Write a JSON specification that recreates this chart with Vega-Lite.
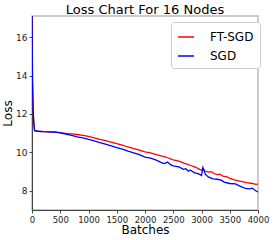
{
  "$schema": "https://vega.github.io/schema/vega-lite/v6.json",
  "autosize": {"type": "none"},
  "width": 226,
  "height": 194,
  "padding": {"left": 32, "top": 16, "right": 16, "bottom": 30},
  "background": "white",
  "title": {"text": "Loss Chart For 16 Nodes", "font": "DejaVu Sans", "fontSize": 13, "fontWeight": "normal", "color": "#000", "offset": 2, "dy": 3},
  "config": {
    "view": {"stroke": "#bbbbbb", "strokeWidth": 1.5},
    "axis": {"labelFont": "DejaVu Sans", "titleFont": "DejaVu Sans", "labelFontSize": 9, "titleFontSize": 12, "titleFontWeight": "normal", "labelColor": "#222", "titleColor": "#000", "grid": false, "domainColor": "#444", "tickColor": "#444", "tickSize": 3, "labelFlush": false}
  },
  "data": {"values": [
    {"batch": 0, "loss": 17.6, "series": "FT-SGD"},
    {"batch": 10, "loss": 13.6, "series": "FT-SGD"},
    {"batch": 20, "loss": 12.3, "series": "FT-SGD"},
    {"batch": 30, "loss": 11.6, "series": "FT-SGD"},
    {"batch": 45, "loss": 11.15, "series": "FT-SGD"},
    {"batch": 100, "loss": 11.1, "series": "FT-SGD"},
    {"batch": 200, "loss": 11.08, "series": "FT-SGD"},
    {"batch": 300, "loss": 11.07, "series": "FT-SGD"},
    {"batch": 400, "loss": 11.06, "series": "FT-SGD"},
    {"batch": 500, "loss": 11.03, "series": "FT-SGD"},
    {"batch": 600, "loss": 10.99, "series": "FT-SGD"},
    {"batch": 700, "loss": 10.96, "series": "FT-SGD"},
    {"batch": 800, "loss": 10.93, "series": "FT-SGD"},
    {"batch": 900, "loss": 10.89, "series": "FT-SGD"},
    {"batch": 1000, "loss": 10.83, "series": "FT-SGD"},
    {"batch": 1100, "loss": 10.76, "series": "FT-SGD"},
    {"batch": 1200, "loss": 10.68, "series": "FT-SGD"},
    {"batch": 1300, "loss": 10.61, "series": "FT-SGD"},
    {"batch": 1400, "loss": 10.53, "series": "FT-SGD"},
    {"batch": 1500, "loss": 10.45, "series": "FT-SGD"},
    {"batch": 1600, "loss": 10.38, "series": "FT-SGD"},
    {"batch": 1700, "loss": 10.28, "series": "FT-SGD"},
    {"batch": 1800, "loss": 10.2, "series": "FT-SGD"},
    {"batch": 1900, "loss": 10.12, "series": "FT-SGD"},
    {"batch": 2000, "loss": 10.03, "series": "FT-SGD"},
    {"batch": 2100, "loss": 9.97, "series": "FT-SGD"},
    {"batch": 2200, "loss": 9.88, "series": "FT-SGD"},
    {"batch": 2300, "loss": 9.8, "series": "FT-SGD"},
    {"batch": 2350, "loss": 9.78, "series": "FT-SGD"},
    {"batch": 2400, "loss": 9.72, "series": "FT-SGD"},
    {"batch": 2500, "loss": 9.61, "series": "FT-SGD"},
    {"batch": 2600, "loss": 9.54, "series": "FT-SGD"},
    {"batch": 2700, "loss": 9.43, "series": "FT-SGD"},
    {"batch": 2800, "loss": 9.33, "series": "FT-SGD"},
    {"batch": 2900, "loss": 9.22, "series": "FT-SGD"},
    {"batch": 2960, "loss": 9.13, "series": "FT-SGD"},
    {"batch": 3000, "loss": 9.07, "series": "FT-SGD"},
    {"batch": 3025, "loss": 9.18, "series": "FT-SGD"},
    {"batch": 3060, "loss": 9.03, "series": "FT-SGD"},
    {"batch": 3120, "loss": 8.97, "series": "FT-SGD"},
    {"batch": 3170, "loss": 9.0, "series": "FT-SGD"},
    {"batch": 3220, "loss": 8.9, "series": "FT-SGD"},
    {"batch": 3280, "loss": 8.84, "series": "FT-SGD"},
    {"batch": 3320, "loss": 8.86, "series": "FT-SGD"},
    {"batch": 3380, "loss": 8.76, "series": "FT-SGD"},
    {"batch": 3450, "loss": 8.73, "series": "FT-SGD"},
    {"batch": 3500, "loss": 8.65, "series": "FT-SGD"},
    {"batch": 3600, "loss": 8.56, "series": "FT-SGD"},
    {"batch": 3700, "loss": 8.49, "series": "FT-SGD"},
    {"batch": 3800, "loss": 8.43, "series": "FT-SGD"},
    {"batch": 3900, "loss": 8.38, "series": "FT-SGD"},
    {"batch": 3960, "loss": 8.33, "series": "FT-SGD"},
    {"batch": 4000, "loss": 8.35, "series": "FT-SGD"},
    {"batch": 0, "loss": 17.6, "series": "SGD"},
    {"batch": 8, "loss": 13.8, "series": "SGD"},
    {"batch": 18, "loss": 12.4, "series": "SGD"},
    {"batch": 28, "loss": 11.7, "series": "SGD"},
    {"batch": 45, "loss": 11.13, "series": "SGD"},
    {"batch": 100, "loss": 11.1, "series": "SGD"},
    {"batch": 200, "loss": 11.08, "series": "SGD"},
    {"batch": 300, "loss": 11.07, "series": "SGD"},
    {"batch": 400, "loss": 11.05, "series": "SGD"},
    {"batch": 500, "loss": 11.02, "series": "SGD"},
    {"batch": 600, "loss": 10.95, "series": "SGD"},
    {"batch": 700, "loss": 10.88, "series": "SGD"},
    {"batch": 800, "loss": 10.81, "series": "SGD"},
    {"batch": 900, "loss": 10.75, "series": "SGD"},
    {"batch": 1000, "loss": 10.68, "series": "SGD"},
    {"batch": 1100, "loss": 10.6, "series": "SGD"},
    {"batch": 1200, "loss": 10.51, "series": "SGD"},
    {"batch": 1300, "loss": 10.43, "series": "SGD"},
    {"batch": 1400, "loss": 10.34, "series": "SGD"},
    {"batch": 1500, "loss": 10.25, "series": "SGD"},
    {"batch": 1600, "loss": 10.17, "series": "SGD"},
    {"batch": 1700, "loss": 10.06, "series": "SGD"},
    {"batch": 1800, "loss": 9.98, "series": "SGD"},
    {"batch": 1900, "loss": 9.88, "series": "SGD"},
    {"batch": 2000, "loss": 9.75, "series": "SGD"},
    {"batch": 2100, "loss": 9.7, "series": "SGD"},
    {"batch": 2200, "loss": 9.6, "series": "SGD"},
    {"batch": 2300, "loss": 9.45, "series": "SGD"},
    {"batch": 2350, "loss": 9.42, "series": "SGD"},
    {"batch": 2400, "loss": 9.5, "series": "SGD"},
    {"batch": 2450, "loss": 9.36, "series": "SGD"},
    {"batch": 2500, "loss": 9.3, "series": "SGD"},
    {"batch": 2600, "loss": 9.24, "series": "SGD"},
    {"batch": 2680, "loss": 9.12, "series": "SGD"},
    {"batch": 2720, "loss": 9.15, "series": "SGD"},
    {"batch": 2770, "loss": 9.02, "series": "SGD"},
    {"batch": 2800, "loss": 9.08, "series": "SGD"},
    {"batch": 2870, "loss": 8.95, "series": "SGD"},
    {"batch": 2950, "loss": 8.88, "series": "SGD"},
    {"batch": 3000, "loss": 8.8, "series": "SGD"},
    {"batch": 3025, "loss": 9.2, "series": "SGD"},
    {"batch": 3070, "loss": 8.85, "series": "SGD"},
    {"batch": 3120, "loss": 8.72, "series": "SGD"},
    {"batch": 3200, "loss": 8.62, "series": "SGD"},
    {"batch": 3280, "loss": 8.6, "series": "SGD"},
    {"batch": 3350, "loss": 8.55, "series": "SGD"},
    {"batch": 3400, "loss": 8.45, "series": "SGD"},
    {"batch": 3500, "loss": 8.38, "series": "SGD"},
    {"batch": 3600, "loss": 8.36, "series": "SGD"},
    {"batch": 3700, "loss": 8.22, "series": "SGD"},
    {"batch": 3780, "loss": 8.12, "series": "SGD"},
    {"batch": 3850, "loss": 8.1, "series": "SGD"},
    {"batch": 3900, "loss": 8.14, "series": "SGD"},
    {"batch": 3960, "loss": 8.0, "series": "SGD"},
    {"batch": 4000, "loss": 7.94, "series": "SGD"}
  ]},
  "mark": {"type": "line", "clip": true, "strokeWidth": 1.3},
  "encoding": {
    "x": {"field": "batch", "type": "quantitative", "title": "Batches", "scale": {"domain": [0, 4000], "nice": false}, "axis": {"values": [0, 500, 1000, 1500, 2000, 2500, 3000, 3500, 4000], "format": "d", "labelOverlap": false, "labelFontSize": 8.5, "titlePadding": 1, "labelPadding": 2}},
    "y": {"field": "loss", "type": "quantitative", "title": "Loss", "scale": {"domain": [7, 17.1], "nice": false, "zero": false}, "axis": {"values": [8, 10, 12, 14, 16], "titlePadding": 1, "labelPadding": 2}},
    "color": {"field": "series", "type": "nominal", "title": null, "scale": {"domain": ["FT-SGD", "SGD"], "range": ["#ff0000", "#0000ff"]},
      "legend": {"orient": "none", "legendX": 139, "legendY": 6, "symbolType": "stroke", "symbolSize": 256, "symbolStrokeWidth": 1.5, "labelFont": "DejaVu Sans", "labelFontSize": 12, "labelColor": "#000", "labelOffset": 15, "strokeColor": "#cccccc", "fillColor": "white", "cornerRadius": 3, "padding": 6, "rowPadding": 4}}
  }
}
